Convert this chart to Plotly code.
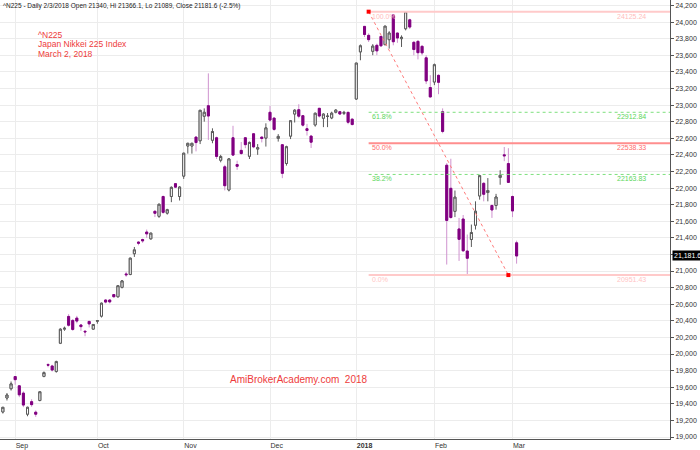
import plotly.graph_objects as go

# ---------------- data ----------------
dates = [
    "2017-08-29", "2017-08-30", "2017-08-31",
    "2017-09-01", "2017-09-04", "2017-09-05", "2017-09-06", "2017-09-07", "2017-09-08",
    "2017-09-11", "2017-09-12", "2017-09-13", "2017-09-14", "2017-09-15",
    "2017-09-19", "2017-09-20", "2017-09-21", "2017-09-22",
    "2017-09-25", "2017-09-26", "2017-09-27", "2017-09-28", "2017-09-29",
    "2017-10-02", "2017-10-03", "2017-10-04", "2017-10-05", "2017-10-06",
    "2017-10-10", "2017-10-11", "2017-10-12", "2017-10-13",
    "2017-10-16", "2017-10-17", "2017-10-18", "2017-10-19", "2017-10-20",
    "2017-10-23", "2017-10-24", "2017-10-25", "2017-10-26", "2017-10-27",
    "2017-10-30", "2017-10-31",
    "2017-11-01", "2017-11-02", "2017-11-03", "2017-11-06", "2017-11-07", "2017-11-08",
    "2017-11-09", "2017-11-10", "2017-11-13", "2017-11-14", "2017-11-15", "2017-11-16",
    "2017-11-17", "2017-11-20", "2017-11-21", "2017-11-22", "2017-11-24",
    "2017-11-27", "2017-11-28", "2017-11-29", "2017-11-30",
    "2017-12-01", "2017-12-04", "2017-12-05", "2017-12-06", "2017-12-07", "2017-12-08",
    "2017-12-11", "2017-12-12", "2017-12-13", "2017-12-14", "2017-12-15",
    "2017-12-18", "2017-12-19", "2017-12-20", "2017-12-21", "2017-12-22",
    "2017-12-25", "2017-12-26", "2017-12-27", "2017-12-28", "2017-12-29",
    "2018-01-04", "2018-01-05", "2018-01-09", "2018-01-10", "2018-01-11", "2018-01-12",
    "2018-01-15", "2018-01-16", "2018-01-17", "2018-01-18", "2018-01-19",
    "2018-01-22", "2018-01-23", "2018-01-24", "2018-01-25", "2018-01-26",
    "2018-01-29", "2018-01-30", "2018-01-31",
    "2018-02-01", "2018-02-02", "2018-02-05", "2018-02-06", "2018-02-07", "2018-02-08",
    "2018-02-09", "2018-02-13", "2018-02-14", "2018-02-15", "2018-02-16",
    "2018-02-19", "2018-02-20", "2018-02-21", "2018-02-22", "2018-02-23",
    "2018-02-26", "2018-02-27", "2018-02-28",
    "2018-03-01", "2018-03-02",
]

opens = [
    19302, 19470, 19582,
    19728, 19617, 19529, 19275, 19426, 19299,
    19440, 19730, 19872, 19856, 19790,
    20130, 20300, 20453, 20405,
    20433, 20350, 20275, 20393, 20300,
    20396, 20457, 20651, 20651, 20716,
    20690, 20803, 20965, 20958,
    21209, 21349, 21380, 21470, 21388,
    21720, 21659, 21898, 21698, 21898,
    22053, 21898,
    22144, 22507, 22507, 22614, 22570, 22865,
    22992, 22576, 22606, 22335, 22256, 21977,
    22606, 22283, 22454, 22606, 22383,
    22654, 22470, 22614, 22602,
    22913, 22843, 22598, 22522, 22296, 22626,
    22892, 22944, 22872, 22715, 22626,
    22761, 22961, 22841, 22862, 22845,
    22913, 22920, 22900, 22912, 22830,
    23073, 23641, 23948, 23840, 23648, 23720,
    23827, 23728, 23788, 24086, 23868,
    23800, 23920, 24027, 23756, 23768,
    23708, 23569, 23211,
    23278, 23358, 22920, 22275, 21997, 21719,
    21507, 21627, 21241, 21380, 21552,
    21905, 22057, 21946, 21790, 21790,
    22128, 22400, 22295,
    21898, 21340,
]

highs = [
    19362, 19530, 19669,
    19735, 19625, 19550, 19365, 19455, 19320,
    19550, 19790, 19890, 19870, 19920,
    20310, 20330, 20480, 20420,
    20460, 20360, 20280, 20400, 20360,
    20405, 20620, 20660, 20660, 20720,
    20830, 20890, 20990, 21160,
    21290, 21360, 21390, 21500, 21460,
    21730, 21810, 21910, 21750, 22020,
    22060, 22020,
    22425, 22545, 22545, 22620, 22940, 22960,
    23382, 22720, 22620, 22400, 22280, 22360,
    22750, 22330, 22555, 22610, 22560,
    22660, 22530, 22620, 22780,
    22990, 22850, 22650, 22530, 22510, 22820,
    22950, 23010, 22880, 22773, 22640,
    22910, 22965, 22900, 22904, 22920,
    22950, 22930, 22930, 22920, 22840,
    23506, 23730, 23952, 23864, 23734, 23740,
    23834, 23952, 23890, 24090, 23870,
    23840, 24129, 24040, 23770, 23780,
    23720, 23600, 23360,
    23500, 23370, 22960, 22300, 22353, 21970,
    21640, 21675, 21440, 21560, 21840,
    22150, 22070, 22120, 21800, 21930,
    22215, 22495, 22480,
    21910, 21366,
]

lows = [
    19283, 19440, 19560,
    19630, 19480, 19360, 19250, 19365, 19243,
    19430, 19720, 19840, 19790, 19775,
    20120, 20280, 20330, 20280,
    20370, 20280, 20214, 20320, 20290,
    20365, 20440, 20610, 20610, 20680,
    20680, 20790, 20930, 20950,
    21170, 21310, 21340, 21400, 21380,
    21650, 21640, 21690, 21680, 21830,
    22000, 21850,
    22110, 22415, 22415, 22442, 22530, 22800,
    22580, 22540, 22350, 22310, 21972, 21960,
    22390, 22220, 22400, 22480, 22350,
    22480, 22400, 22550, 22500,
    22800, 22690, 22560, 22119, 22270, 22590,
    22790, 22840, 22740, 22633, 22483,
    22740, 22850, 22734, 22734, 22830,
    22900, 22880, 22880, 22769, 22755,
    23065, 23540, 23820, 23760, 23601, 23601,
    23700, 23720, 23680, 23720, 23750,
    23700, 23900, 23917, 23600, 23550,
    23600, 23253, 23090,
    23240, 23131, 22660, 21078, 21630, 21650,
    21122, 21230, 20950, 21290, 21500,
    21860, 21840, 21840, 21640, 21740,
    22040, 22324, 22065,
    21650, 21089,
]

closes = [
    19358, 19506, 19640,
    19691, 19508, 19385, 19358, 19390, 19275,
    19545, 19776, 19866, 19807, 19909,
    20299, 20310, 20347, 20296,
    20397, 20330, 20267, 20363, 20356,
    20401, 20612, 20626, 20628, 20690,
    20823, 20881, 20955, 21155,
    21255, 21336, 21363, 21448, 21457,
    21696, 21805, 21707, 21739, 22008,
    22011, 22012,
    22420, 22539, 22539, 22548, 22937, 22913,
    22868, 22681, 22381, 22380, 22028, 22351,
    22397, 22262, 22416, 22523, 22550,
    22496, 22486, 22597, 22725,
    22819, 22707, 22622, 22177, 22498, 22811,
    22938, 22866, 22758, 22694, 22553,
    22901, 22868, 22891, 22866, 22902,
    22939, 22892, 22911, 22793, 22765,
    23506, 23714, 23850, 23788, 23710, 23653,
    23714, 23951, 23868, 23763, 23808,
    23816, 24124, 23940, 23669, 23631,
    23629, 23291, 23098,
    23486, 23274, 22682, 21610, 21645, 21890,
    21382, 21244, 21154, 21464, 21720,
    22149, 21925, 21970, 21736, 21892,
    22153, 22389, 22068,
    21724, 21181.6,
]

month_labels = ["Sep", "Oct", "Nov", "Dec", "<b>2018</b>", "Feb", "Mar"]
y_ticks = list(range(19000, 24201, 200))

header_text = "^N225 - Daily 2/3/2018 Open 21340, Hi 21366.1, Lo 21089, Close 21181.6 (-2.5%)"
red_text_lines = ["^N225", "Japan Nikkei 225 Index", "March 2, 2018"]
watermark_text = "AmiBrokerAcademy.com  2018"

fib_start_bar = 89
fib_end_bar = 123
fib_high = 24125.24
fib_low = 20951.43
fib_levels = [1.0, 0.618, 0.5, 0.382, 0.0]
fib_level_labels = ["100.0%", "61.8%", "50.0%", "38.2%", "0.0%"]

# ---------------- layout helpers ----------------
PLOT_W, PLOT_H = 670, 443
bar_px = 4.11
first_bar_px = 2.85
x_lo = -first_bar_px / bar_px
x_hi = x_lo + PLOT_W / bar_px
y_lo, y_hi = 18976, 24266

xs = list(range(len(dates)))
month_idx = [i for i in range(1, len(dates)) if dates[i][:7] != dates[i - 1][:7]]

FONT = "Liberation Sans, Arial, sans-serif"
RED = "#ee3b3b"

fig = go.Figure()

# full candles (wicks in light colour)
fig.add_trace(go.Candlestick(
    x=xs, open=opens, high=highs, low=lows, close=closes,
    increasing=dict(line=dict(color="#5a5a5a", width=1), fillcolor="white"),
    decreasing=dict(line=dict(color="#cf93cf", width=1), fillcolor="#800080"),
    whiskerwidth=0, hoverinfo="skip",
))
# bodies only, drawn over the wicks
body_hi = [max(o, c) for o, c in zip(opens, closes)]
body_lo = [min(o, c) for o, c in zip(opens, closes)]
fig.add_trace(go.Candlestick(
    x=xs, open=opens, high=body_hi, low=body_lo, close=closes,
    increasing=dict(line=dict(color="#5a5a5a", width=1), fillcolor="white"),
    decreasing=dict(line=dict(color="#800080", width=1), fillcolor="#800080"),
    whiskerwidth=0, hoverinfo="skip",
))

# Fibonacci retracement lines
fib_line_styles = {
    1.0: dict(color="#ffcaca", width=2, dash="solid"),
    0.618: dict(color="#7ee07e", width=1, dash="dot"),
    0.5: dict(color="#ff8e8e", width=2, dash="solid"),
    0.382: dict(color="#7ee07e", width=1, dash="dot"),
    0.0: dict(color="#ffcaca", width=2, dash="solid"),
}
fib_text_colors = {1.0: "#ffbcbc", 0.618: "#5cd65c", 0.5: "#ff6a6a", 0.382: "#5cd65c", 0.0: "#ffc4c4"}
rng = fib_high - fib_low
fib_values = [fib_low + lv * rng for lv in fib_levels]
for lv, val, lab in zip(fib_levels, fib_values, fib_level_labels):
    fig.add_trace(go.Scatter(x=[fib_start_bar, x_hi], y=[val, val], mode="lines",
                             line=fib_line_styles[lv], hoverinfo="skip"))
    fig.add_annotation(x=fib_start_bar, y=val, xref="x", yref="y", text=lab,
                       showarrow=False, xanchor="left", yanchor="top", xshift=1, yshift=1,
                       font=dict(family=FONT, size=7, color=fib_text_colors[lv]))
    fig.add_annotation(x=648 / PLOT_W, y=val, xref="paper", yref="y", text=f"{val:.2f}",
                       showarrow=False, xanchor="right", yanchor="top", yshift=1,
                       font=dict(family=FONT, size=7, color=fib_text_colors[lv]))

# diagonal trend line between the fib anchors
fig.add_trace(go.Scatter(x=[fib_start_bar, fib_end_bar], y=[fib_high, fib_low],
                         mode="lines+markers",
                         line=dict(color="#ff7a7a", width=1, dash="dot"),
                         marker=dict(symbol="square", size=4, color="#ff0000"),
                         hoverinfo="skip"))

# header text
fig.add_annotation(x=0, y=1, xref="paper", yref="paper", text=header_text, showarrow=False,
                   xanchor="left", yanchor="top", xshift=1, yshift=0,
                   font=dict(family=FONT, size=6.5, color="#222"))
# red info block
for k, line in enumerate(red_text_lines):
    ypx = 35 + k * 9.6
    fig.add_annotation(x=35.5 / PLOT_W, y=1 - ypx / PLOT_H, xref="paper", yref="paper",
                       text=line, showarrow=False, xanchor="left", yanchor="middle",
                       font=dict(family=FONT, size=8.5, color=RED))
# watermark
fig.add_annotation(x=299 / PLOT_W, y=1 - 383 / PLOT_H, xref="paper", yref="paper",
                   text=watermark_text, showarrow=False, xanchor="center", yanchor="middle",
                   font=dict(family=FONT, size=10, color=RED))
# last price tag (covers the nearby axis label, as in the original)
last = closes[-1]
fig.add_annotation(x=1, y=last, xref="paper", yref="y", text=f"{last:,.1f}",
                   showarrow=False, xanchor="left", yanchor="middle", xshift=2,
                   bgcolor="black", borderpad=1,
                   font=dict(family=FONT, size=7, color="white"))
y_tick_text = ["" if abs(v - last) < 100 else f"{v:,}" for v in y_ticks]

fig.update_layout(
    width=700, height=450,
    margin=dict(l=0, r=30, t=0, b=7),
    paper_bgcolor="white", plot_bgcolor="white",
    showlegend=False,
    xaxis=dict(
        range=[x_lo, x_hi], rangeslider=dict(visible=False),
        tickmode="array", tickvals=month_idx, ticktext=month_labels,
        showgrid=True, gridcolor="#ececec", gridwidth=1,
        ticks="", ticklabelposition="outside right", ticklabelstandoff=0,
        tickfont=dict(family=FONT, size=7, color="#333"),
        showline=True, linecolor="#555", linewidth=1, zeroline=False,
    ),
    yaxis=dict(
        range=[y_lo, y_hi], side="right",
        tickmode="array", tickvals=y_ticks, ticktext=y_tick_text,
        showgrid=True, gridcolor="#ececec", gridwidth=1,
        ticks="outside", ticklen=3, tickcolor="#555",
        tickfont=dict(family=FONT, size=7, color="#333"),
        showline=True, linecolor="#555", linewidth=1, zeroline=False,
    ),
)

fig.write_html(
    "out.html",
    config={"displayModeBar": False},
    post_script="document.body.style.margin='0';document.body.style.overflow='hidden';",
)
